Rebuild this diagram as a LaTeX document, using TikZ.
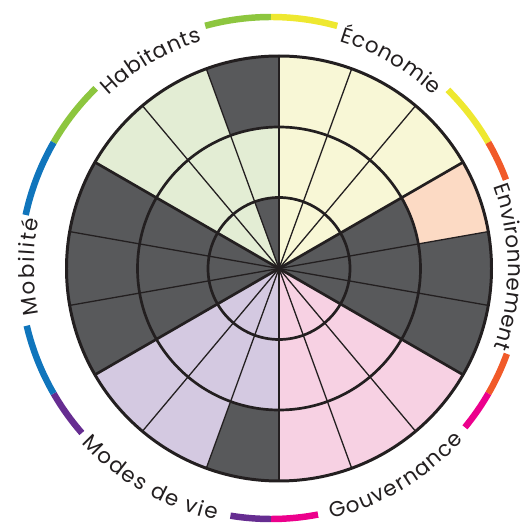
\documentclass[tikz,border=0pt]{standalone}
\usepackage{fontspec}
\setmainfont{Poppins}
\usetikzlibrary{decorations.text}
\definecolor{darkcell}{RGB}{88,89,91}
\definecolor{linec}{RGB}{35,31,32}
\definecolor{yelfill}{RGB}{248,247,214}
\definecolor{grefill}{RGB}{227,237,212}
\definecolor{peafill}{RGB}{252,218,196}
\definecolor{pinfill}{RGB}{247,209,227}
\definecolor{lavfill}{RGB}{212,201,225}
\definecolor{cgreen}{RGB}{141,198,63}
\definecolor{cyellow}{RGB}{238,232,48}
\definecolor{corange}{RGB}{241,90,41}
\definecolor{cmagenta}{RGB}{236,0,140}
\definecolor{cpurple}{RGB}{102,45,145}
\definecolor{cblue}{RGB}{16,117,188}
\newcommand\lblfont{\fontsize{21.5}{21.5}\selectfont\color{linec}}
\tikzset{
  thickline/.style={draw=linec, line width=2.7},
  thinline/.style={draw=linec, line width=1.3},
  band/.style={line width=6.5, line cap=butt},
  toplabel/.style={decorate, decoration={text along path, text align={fit to path}, text={|\lblfont|#1}}},
}
\begin{document}
\begin{tikzpicture}[x=1bp,y=1bp]
\useasboundingbox (-279,-255.5) rectangle (246,268.5);
% base disc
\fill[darkcell] (0,0) circle[radius=212.5];
% coloured wedges
\fill[yelfill] (0,0) -- (90:212.5) arc[start angle=90, end angle=30, radius=212.5] -- cycle;
\fill[pinfill] (0,0) -- (-30:212.5) arc[start angle=-30, end angle=-90, radius=212.5] -- cycle;
\fill[lavfill] (0,0) -- (-90:212.5) arc[start angle=-90, end angle=-150, radius=212.5] -- cycle;
\fill[grefill] (0,0) -- (150:212.5) arc[start angle=150, end angle=90, radius=212.5] -- cycle;
% cell overrides
\fill[peafill] (30:141.5) -- (30:212.5) arc[start angle=30, end angle=10, radius=212.5] -- (10:141.5) arc[start angle=10, end angle=30, radius=141.5] -- cycle;
\fill[darkcell] (-90:141.5) -- (-90:212.5) arc[start angle=-90, end angle=-110, radius=212.5] -- (-110:141.5) arc[start angle=-110, end angle=-90, radius=141.5] -- cycle;
\fill[darkcell] (110:141.5) -- (110:212.5) arc[start angle=110, end angle=90, radius=212.5] -- (90:141.5) arc[start angle=90, end angle=110, radius=141.5] -- cycle;
\fill[darkcell] (0,0) -- (110:71) arc[start angle=110, end angle=90, radius=71] -- cycle;
% radial lines
\coordinate (c) at (0,0);
\foreach \a in {70,50,10,-10,-50,-70,-110,-130,-170,-190,130,110}
  \draw[thinline] (c) -- (\a:212.5);
\foreach \a in {90,30,-30,-90,-150,150}
  \draw[thickline] (c) -- (\a:212.5);
% rings
\draw[thickline] (c) circle[radius=71];
\draw[thickline] (c) circle[radius=141.5];
\draw[thickline, line width=3] (c) circle[radius=212.5];
\begin{scope}[shift={(-8,0.5)}]
% outer coloured bands
\draw[band, cgreen] (90:251) arc[start angle=90, end angle=105.2, radius=251];
\draw[band, cgreen] (134.3:251) arc[start angle=134.3, end angle=150, radius=251];
\draw[band, cyellow] (30:251) arc[start angle=30, end angle=45.2, radius=251];
\draw[band, cyellow] (74.7:251) arc[start angle=74.7, end angle=90, radius=251];
\draw[band, corange] (20.6:251) arc[start angle=20.6, end angle=30, radius=251];
\draw[band, corange] (-30:251) arc[start angle=-30, end angle=-20, radius=251];
\draw[band, cmagenta] (-39.4:251) arc[start angle=-39.4, end angle=-30, radius=251];
\draw[band, cmagenta] (-90:251) arc[start angle=-90, end angle=-79.2, radius=251];
\draw[band, cpurple] (-99.3:251) arc[start angle=-99.3, end angle=-90, radius=251];
\draw[band, cpurple] (-150:251) arc[start angle=-150, end angle=-138.9, radius=251];
\draw[band, cblue] (150:251) arc[start angle=150, end angle=167.8, radius=251];
\draw[band, cblue] (193.3:251) arc[start angle=193.3, end angle=210, radius=251];
% labels
\path[toplabel=Habitants] (133.3:237) arc[start angle=133.3, end angle=106.9, radius=237];
\path[toplabel=Économie] (73.1:237) arc[start angle=73.1, end angle=46.7, radius=237];
\path[toplabel=Environnement] (20.2:237) arc[start angle=20.2, end angle=-19.6, radius=237];
\path[toplabel=Mobilité] (191.2:237) arc[start angle=191.2, end angle=168.2, radius=237];
\path[toplabel=Gouvernance] (-76.5:258) arc[start angle=-76.5, end angle=-41.8, radius=258];
\path[toplabel=Modes de vie] (-137.2:258) arc[start angle=-137.2, end angle=-102.3, radius=258];
\end{scope}
\end{tikzpicture}
\end{document}
